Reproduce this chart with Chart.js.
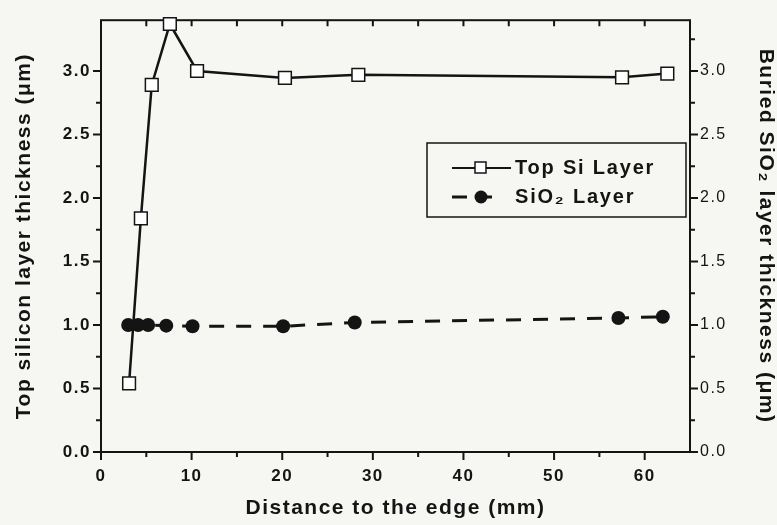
<!DOCTYPE html>
<html>
<head>
<meta charset="utf-8">
<script src="https://cdn.jsdelivr.net/npm/chart.js@4.4.1/dist/chart.umd.min.js"></script>
<style>
  html, body { margin: 0; padding: 0; background: #f6f6f3; }
  canvas { display: block; }
</style>
</head>
<body>
<canvas id="chart" width="777" height="525"></canvas>
<script>
// distance from the wafer edge (mm) and measured thicknesses (um)
const siDistance = [3.1, 4.4, 5.6, 7.6, 10.6, 20.3, 28.4, 57.5, 62.5];
const siThickness = [0.54, 1.84, 2.89, 3.37, 3.0, 2.945, 2.97, 2.95, 2.98];
const oxideDistance = [3.0, 4.1, 5.2, 7.2, 10.1, 20.1, 28.0, 57.1, 62.0];
const oxideThickness = [1.0, 1.0, 1.0, 0.995, 0.99, 0.99, 1.02, 1.055, 1.065];

const xTickLabels = [0, 10, 20, 30, 40, 50, 60];
const yTickLabels = [0, 0.5, 1.0, 1.5, 2.0, 2.5, 3.0];

const ink = '#141414';
const family = "'Liberation Sans', Arial, Helvetica, sans-serif";

const toPoints = (xs, ys) => xs.map((x, i) => ({ x, y: ys[i] }));
const isOn = (list, v) => list.some(t => Math.abs(t - v) < 1e-6);

// box frame, outward ticks on left/right/bottom, inward ticks on top
const axisFrame = {
  id: 'axisFrame',
  beforeDraw(chart) {
    chart.ctx.letterSpacing = '1.5px';
  },
  beforeDatasetsDraw(chart) {
    const { ctx, chartArea: a, scales } = chart;
    ctx.save();
    ctx.strokeStyle = ink;
    ctx.lineWidth = 2;
    ctx.strokeRect(a.left, a.top, a.right - a.left, a.bottom - a.top);
    ctx.beginPath();
    scales.x.ticks.forEach(t => {
      if (t.value >= scales.x.max) return;
      const px = scales.x.getPixelForValue(t.value);
      const len = isOn(xTickLabels, t.value) ? 8 : 5;
      ctx.moveTo(px, a.bottom);
      ctx.lineTo(px, a.bottom + len);
      if (t.value > 0) {
        ctx.moveTo(px, a.top);
        ctx.lineTo(px, a.top + 6);
      }
    });
    ['y', 'y2'].forEach(id => {
      const s = scales[id];
      const x0 = id === 'y' ? a.left : a.right;
      const dir = id === 'y' ? -1 : 1;
      s.ticks.forEach(t => {
        const q = t.value * 4;
        if (Math.abs(q - Math.round(q)) > 1e-6 || t.value >= s.max) return;
        const py = s.getPixelForValue(t.value);
        const len = isOn(yTickLabels, t.value) ? 8 : 5;
        ctx.moveTo(x0, py);
        ctx.lineTo(x0 + dir * len, py);
      });
    });
    ctx.stroke();
    ctx.restore();
  },
  afterDraw(chart) {
    const { ctx } = chart;
    const [si, ox] = chart.data.datasets;
    ctx.save();
    ctx.strokeStyle = ink;
    ctx.lineWidth = 1.5;
    ctx.strokeRect(427, 143, 259, 74);

    // Top Si row
    ctx.lineWidth = 2;
    ctx.beginPath();
    ctx.moveTo(452, 168);
    ctx.lineTo(511, 168);
    ctx.stroke();
    ctx.fillStyle = si.pointBackgroundColor;
    ctx.lineWidth = 1.5;
    ctx.fillRect(475, 162, 11, 11);
    ctx.strokeRect(475, 162, 11, 11);

    // SiO2 row
    ctx.lineWidth = 3;
    ctx.setLineDash([15, 10]);
    ctx.beginPath();
    ctx.moveTo(452, 197);
    ctx.lineTo(497, 197);
    ctx.stroke();
    ctx.setLineDash([]);
    ctx.fillStyle = ox.pointBackgroundColor;
    ctx.beginPath();
    ctx.arc(481, 197, 6.5, 0, Math.PI * 2);
    ctx.fill();

    ctx.fillStyle = ink;
    ctx.font = `bold 20px ${family}`;
    ctx.letterSpacing = '1.8px';
    ctx.textBaseline = 'middle';
    ctx.textAlign = 'left';
    ctx.fillText(si.label, 515, 168);
    ctx.fillText(ox.label, 515, 197);
    ctx.restore();
  }
};

const boldTicks = { family, size: 17, weight: 'bold' };
const titleFont = { family, size: 21, weight: 'bold' };

new Chart(document.getElementById('chart'), {
  type: 'line',
  data: {
    datasets: [
      {
        label: 'Top Si Layer',
        data: toPoints(siDistance, siThickness),
        yAxisID: 'y',
        borderColor: ink,
        borderWidth: 2.5,
        tension: 0,
        pointStyle: 'rect',
        pointRadius: 9,
        pointBackgroundColor: '#ffffff',
        pointBorderColor: ink,
        pointBorderWidth: 1.5,
        clip: false
      },
      {
        label: 'SiO\u2082 Layer',
        data: toPoints(oxideDistance, oxideThickness),
        yAxisID: 'y2',
        borderColor: ink,
        borderWidth: 3,
        borderDash: [15, 12],
        tension: 0,
        pointStyle: 'circle',
        pointRadius: 7,
        pointBackgroundColor: ink,
        pointBorderWidth: 0
      }
    ]
  },
  options: {
    responsive: false,
    animation: false,
    devicePixelRatio: 1,
    layout: { padding: { top: 10 } },
    plugins: { legend: { display: false }, tooltip: { enabled: false } },
    scales: {
      x: {
        type: 'linear',
        position: 'bottom',
        min: 0,
        max: 65,
        grid: { display: false, drawTicks: false },
        border: { display: false },
        ticks: {
          stepSize: 5,
          autoSkip: false,
          maxRotation: 0,
          padding: 14,
          color: ink,
          font: boldTicks,
          callback: v => (isOn(xTickLabels, v) ? String(v) : '')
        },
        title: {
          display: true,
          text: 'Distance to the edge (mm)',
          color: ink,
          font: titleFont,
          padding: { top: 0, bottom: 4 }
        },
        afterFit(s) { s.height = 73; }
      },
      y: {
        position: 'left',
        min: 0,
        max: 3.4,
        grid: { display: false, drawTicks: false },
        border: { display: false },
        ticks: {
          stepSize: 0.25,
          autoSkip: false,
          padding: 10,
          color: ink,
          font: boldTicks,
          callback: v => (isOn(yTickLabels, v) ? v.toFixed(1) : '')
        },
        title: {
          display: true,
          text: 'Top silicon layer thickness (\u03bcm)',
          color: ink,
          font: titleFont,
          padding: { top: 12, bottom: 0 }
        },
        afterFit(s) { s.width = 101; }
      },
      y2: {
        position: 'right',
        min: 0,
        max: 3.4,
        grid: { display: false, drawTicks: false },
        border: { display: false },
        ticks: {
          stepSize: 0.25,
          autoSkip: false,
          padding: 10,
          color: ink,
          font: { family, size: 16 },
          callback: v => (isOn(yTickLabels, v) ? v.toFixed(1) : '')
        },
        title: {
          display: true,
          text: 'Buried SiO\u2082 layer thickness (\u03bcm)',
          color: ink,
          font: titleFont,
          padding: { top: -1, bottom: 0 }
        },
        afterFit(s) { s.width = 87; }
      }
    }
  },
  plugins: [axisFrame]
});
</script>
</body>
</html>
